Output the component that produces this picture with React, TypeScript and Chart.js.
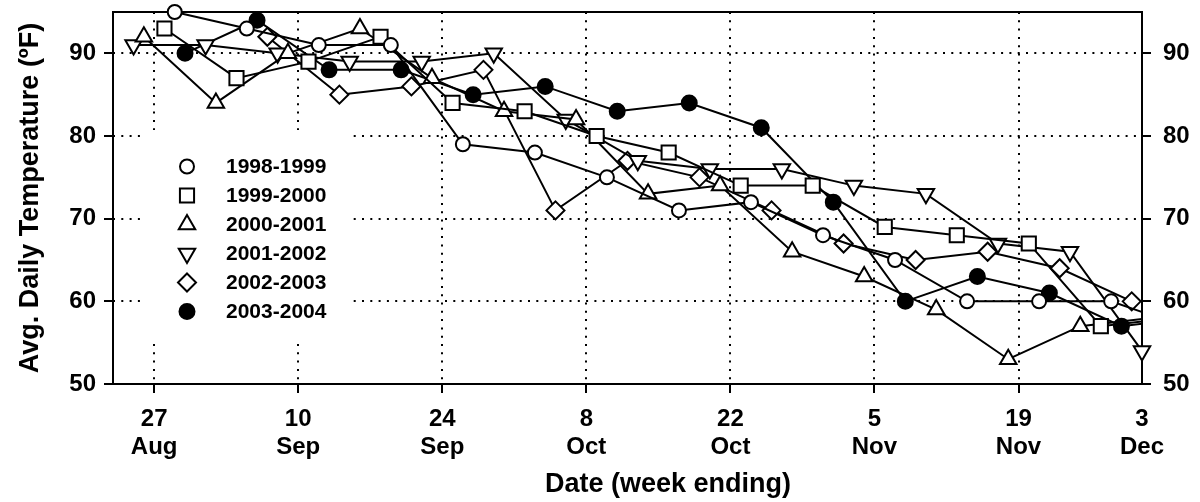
import React, { useEffect, useRef } from "react";
import { Chart, registerables } from "chart.js";

Chart.register(...registerables);

// Week-ending dates expressed as days after 27 Aug
const seasons = ["1998-1999", "1999-2000", "2000-2001", "2001-2002", "2002-2003", "2003-2004"];

const days9899 = [2, 9, 16, 23, 30, 37, 44, 51, 58, 65, 72, 79, 86, 93, 100];
const temp9899 = [95, 93, 91, 91, 79, 78, 75, 71, 72, 68, 65, 60, 60, 60, 57];

const days9900 = [1, 8, 15, 22, 29, 36, 43, 50, 57, 64, 71, 78, 85, 92, 99];
const temp9900 = [93, 87, 89, 92, 84, 83, 80, 78, 74, 74, 69, 68, 67, 57, 58];

const days0001 = [-1, 6, 13, 20, 27, 34, 41, 48, 55, 62, 69, 76, 83, 90, 97];
const temp0001 = [92, 84, 90, 93, 87, 83, 82, 73, 74, 66, 63, 59, 53, 57, 58];

const days0102 = [-2, 5, 12, 19, 26, 33, 40, 47, 54, 61, 68, 75, 82, 89, 96];
const temp0102 = [91, 91, 90, 89, 89, 90, 82, 77, 76, 76, 74, 73, 67, 66, 54];

const days0203 = [11, 18, 25, 32, 39, 46, 53, 60, 67, 74, 81, 88, 95];
const temp0203 = [92, 85, 86, 88, 71, 77, 75, 71, 67, 65, 66, 64, 60];

const days0304 = [3, 10, 17, 24, 31, 38, 45, 52, 59, 66, 73, 80, 87, 94, 101];
const temp0304 = [90, 94, 88, 88, 85, 86, 83, 84, 81, 72, 60, 63, 61, 57, 58];

const xTickDays = [0, 14, 28, 42, 56, 70, 84, 96];
const xTickLabels = [
  ["27", "Aug"], ["10", "Sep"], ["24", "Sep"], ["8", "Oct"],
  ["22", "Oct"], ["5", "Nov"], ["19", "Nov"], ["3", "Dec"],
];
const yTicks = [50, 60, 70, 80, 90];

const xTitle = "Date (week ending)";
const yTitle = "Avg. Daily Temperature (ºF)";

const FONT = "'Liberation Sans', Arial, Helvetica, sans-serif";

type Marker = { style: string; radius: number; filled: boolean; rotation: number };
const markers: Marker[] = [
  { style: "circle", radius: 7, filled: false, rotation: 0 },
  { style: "rect", radius: 10, filled: false, rotation: 0 },
  { style: "triangle", radius: 9.5, filled: false, rotation: 0 },
  { style: "triangle", radius: 9.5, filled: false, rotation: 180 },
  { style: "rectRot", radius: 9, filled: false, rotation: 0 },
  { style: "circle", radius: 7.5, filled: true, rotation: 0 },
];

function drawMarker(ctx: CanvasRenderingContext2D, m: Marker, x: number, y: number) {
  const r = m.radius;
  ctx.beginPath();
  if (m.style === "circle") {
    ctx.arc(x, y, r, 0, Math.PI * 2);
  } else if (m.style === "rect") {
    const s = r * Math.SQRT1_2;
    ctx.rect(x - s, y - s, 2 * s, 2 * s);
  } else if (m.style === "rectRot") {
    ctx.moveTo(x, y - r);
    ctx.lineTo(x + r, y);
    ctx.lineTo(x, y + r);
    ctx.lineTo(x - r, y);
    ctx.closePath();
  } else if (m.style === "triangle") {
    const rad = (m.rotation * Math.PI) / 180;
    for (let k = 0; k < 3; k++) {
      const a = rad - Math.PI / 2 + (k * 2 * Math.PI) / 3;
      const px = x + Math.cos(a) * r;
      const py = y + Math.sin(a) * r;
      if (k === 0) ctx.moveTo(px, py);
      else ctx.lineTo(px, py);
    }
    ctx.closePath();
  }
  ctx.fillStyle = m.filled ? "#000" : "#fff";
  ctx.fill();
  ctx.lineWidth = 2;
  ctx.strokeStyle = "#000";
  ctx.stroke();
}

const framePlugin = {
  id: "frame",
  beforeDatasetsDraw(chart: any) {
    const { ctx, chartArea: a } = chart;
    ctx.save();
    ctx.strokeStyle = "#000";
    ctx.lineWidth = 2;
    ctx.strokeRect(a.left, a.top, a.right - a.left, a.bottom - a.top);
    ctx.restore();
  },
  afterDatasetsDraw(chart: any) {
    const { ctx } = chart;
    ctx.save();
    ctx.fillStyle = "#fff";
    ctx.fillRect(142, 130, 210, 210);
    seasons.forEach((s, i) => {
      const y = 166.5 + i * 29;
      drawMarker(ctx, markers[i], 187, y);
      ctx.fillStyle = "#000";
      ctx.font = `bold 21px ${FONT}`;
      ctx.textAlign = "left";
      ctx.textBaseline = "middle";
      ctx.fillText(s, 226, y + 1);
    });
    ctx.restore();
  },
  afterDraw(chart: any) {
    const { ctx } = chart;
    ctx.save();
    ctx.fillStyle = "#000";
    ctx.font = `bold 27px ${FONT}`;
    ctx.textAlign = "center";
    ctx.textBaseline = "middle";
    ctx.fillText(xTitle, 668, 485);
    ctx.restore();
  },
};

export default function App() {
  const ref = useRef<HTMLCanvasElement>(null);

  useEffect(() => {
    if (!ref.current) return;
    const series = [
      [days9899, temp9899],
      [days9900, temp9900],
      [days0001, temp0001],
      [days0102, temp0102],
      [days0203, temp0203],
      [days0304, temp0304],
    ];
    const datasets = series.map(([xs, ys], i) => {
      const m = markers[i];
      const edgeOnly = xs[xs.length - 1] <= 96;
      return {
        label: seasons[i],
        data: xs.map((x, j) => ({ x, y: ys[j] })),
        borderColor: "#000",
        borderWidth: 2,
        backgroundColor: m.filled ? "#000" : "#fff",
        pointStyle: m.style,
        pointRadius: m.radius,
        pointHoverRadius: m.radius,
        pointRotation: m.rotation,
        pointBackgroundColor: m.filled ? "#000" : "#fff",
        pointBorderColor: "#000",
        pointBorderWidth: 2,
        fill: false,
        tension: 0,
        clip: edgeOnly ? false : { left: false, top: false, right: 0, bottom: false },
      };
    });

    const tickFont = { family: FONT, size: 24, weight: "bold" as const, lineHeight: 1.15 };

    const chart = new Chart(ref.current, {
      type: "line",
      data: { datasets: datasets as any },
      plugins: [framePlugin],
      options: {
        responsive: false,
        animation: false,
        devicePixelRatio: 1,
        events: [],
        layout: { padding: { top: 11, left: 0, right: 0, bottom: 0 } },
        plugins: { legend: { display: false }, tooltip: { enabled: false } },
        scales: {
          x: {
            type: "linear",
            min: -4,
            max: 96,
            afterBuildTicks: (s: any) => {
              s.ticks = xTickDays.map((v) => ({ value: v }));
            },
            afterFit: (s: any) => {
              s.height = 118;
              s.paddingLeft = 0;
              s.paddingRight = 0;
            },
            ticks: {
              autoSkip: false,
              maxRotation: 0,
              minRotation: 0,
              padding: 13,
              color: "#000",
              font: tickFont,
              callback: (v: any) => xTickLabels[xTickDays.indexOf(Number(v))],
            },
            grid: {
              color: "#000",
              lineWidth: 2,
              tickLength: 9,
              tickWidth: 2,
              tickBorderDash: [],
              tickColor: (c: any) => (c.tick && c.tick.value === 96 ? "rgba(0,0,0,0)" : "#000"),
            },
            border: { display: false, dash: [2, 6.3] },
          },
          y: {
            position: "left",
            min: 50,
            max: 95,
            afterBuildTicks: (s: any) => {
              s.ticks = yTicks.map((v) => ({ value: v }));
            },
            afterFit: (s: any) => {
              s.width = 113;
              s.paddingTop = 0;
              s.paddingBottom = 0;
            },
            ticks: { padding: 8, color: "#000", font: tickFont },
            title: {
              display: true,
              text: yTitle,
              color: "#000",
              font: { family: FONT, size: 27, weight: "bold" },
              padding: { top: 14, bottom: 0 },
            },
            grid: {
              color: "#000",
              lineWidth: 2,
              tickLength: 9,
              tickWidth: 2,
              tickBorderDash: [],
              tickColor: "#000",
            },
            border: { display: false, dash: [2, 6.3] },
          },
          y2: {
            position: "right",
            min: 50,
            max: 95,
            afterBuildTicks: (s: any) => {
              s.ticks = yTicks.map((v) => ({ value: v }));
            },
            afterFit: (s: any) => {
              s.width = 58;
              s.paddingTop = 0;
              s.paddingBottom = 0;
            },
            ticks: { padding: 12, color: "#000", font: tickFont },
            grid: {
              drawOnChartArea: false,
              color: "#000",
              lineWidth: 2,
              tickLength: 9,
              tickWidth: 2,
              tickColor: "#000",
            },
            border: { display: false },
          },
        },
      } as any,
    });
    return () => chart.destroy();
  }, []);

  return (
    <div style={{ position: "fixed", left: 0, top: 0, width: 1200, height: 502, background: "#fff" }}>
      <canvas ref={ref} width={1200} height={502} style={{ display: "block", width: 1200, height: 502 }} />
    </div>
  );
}
